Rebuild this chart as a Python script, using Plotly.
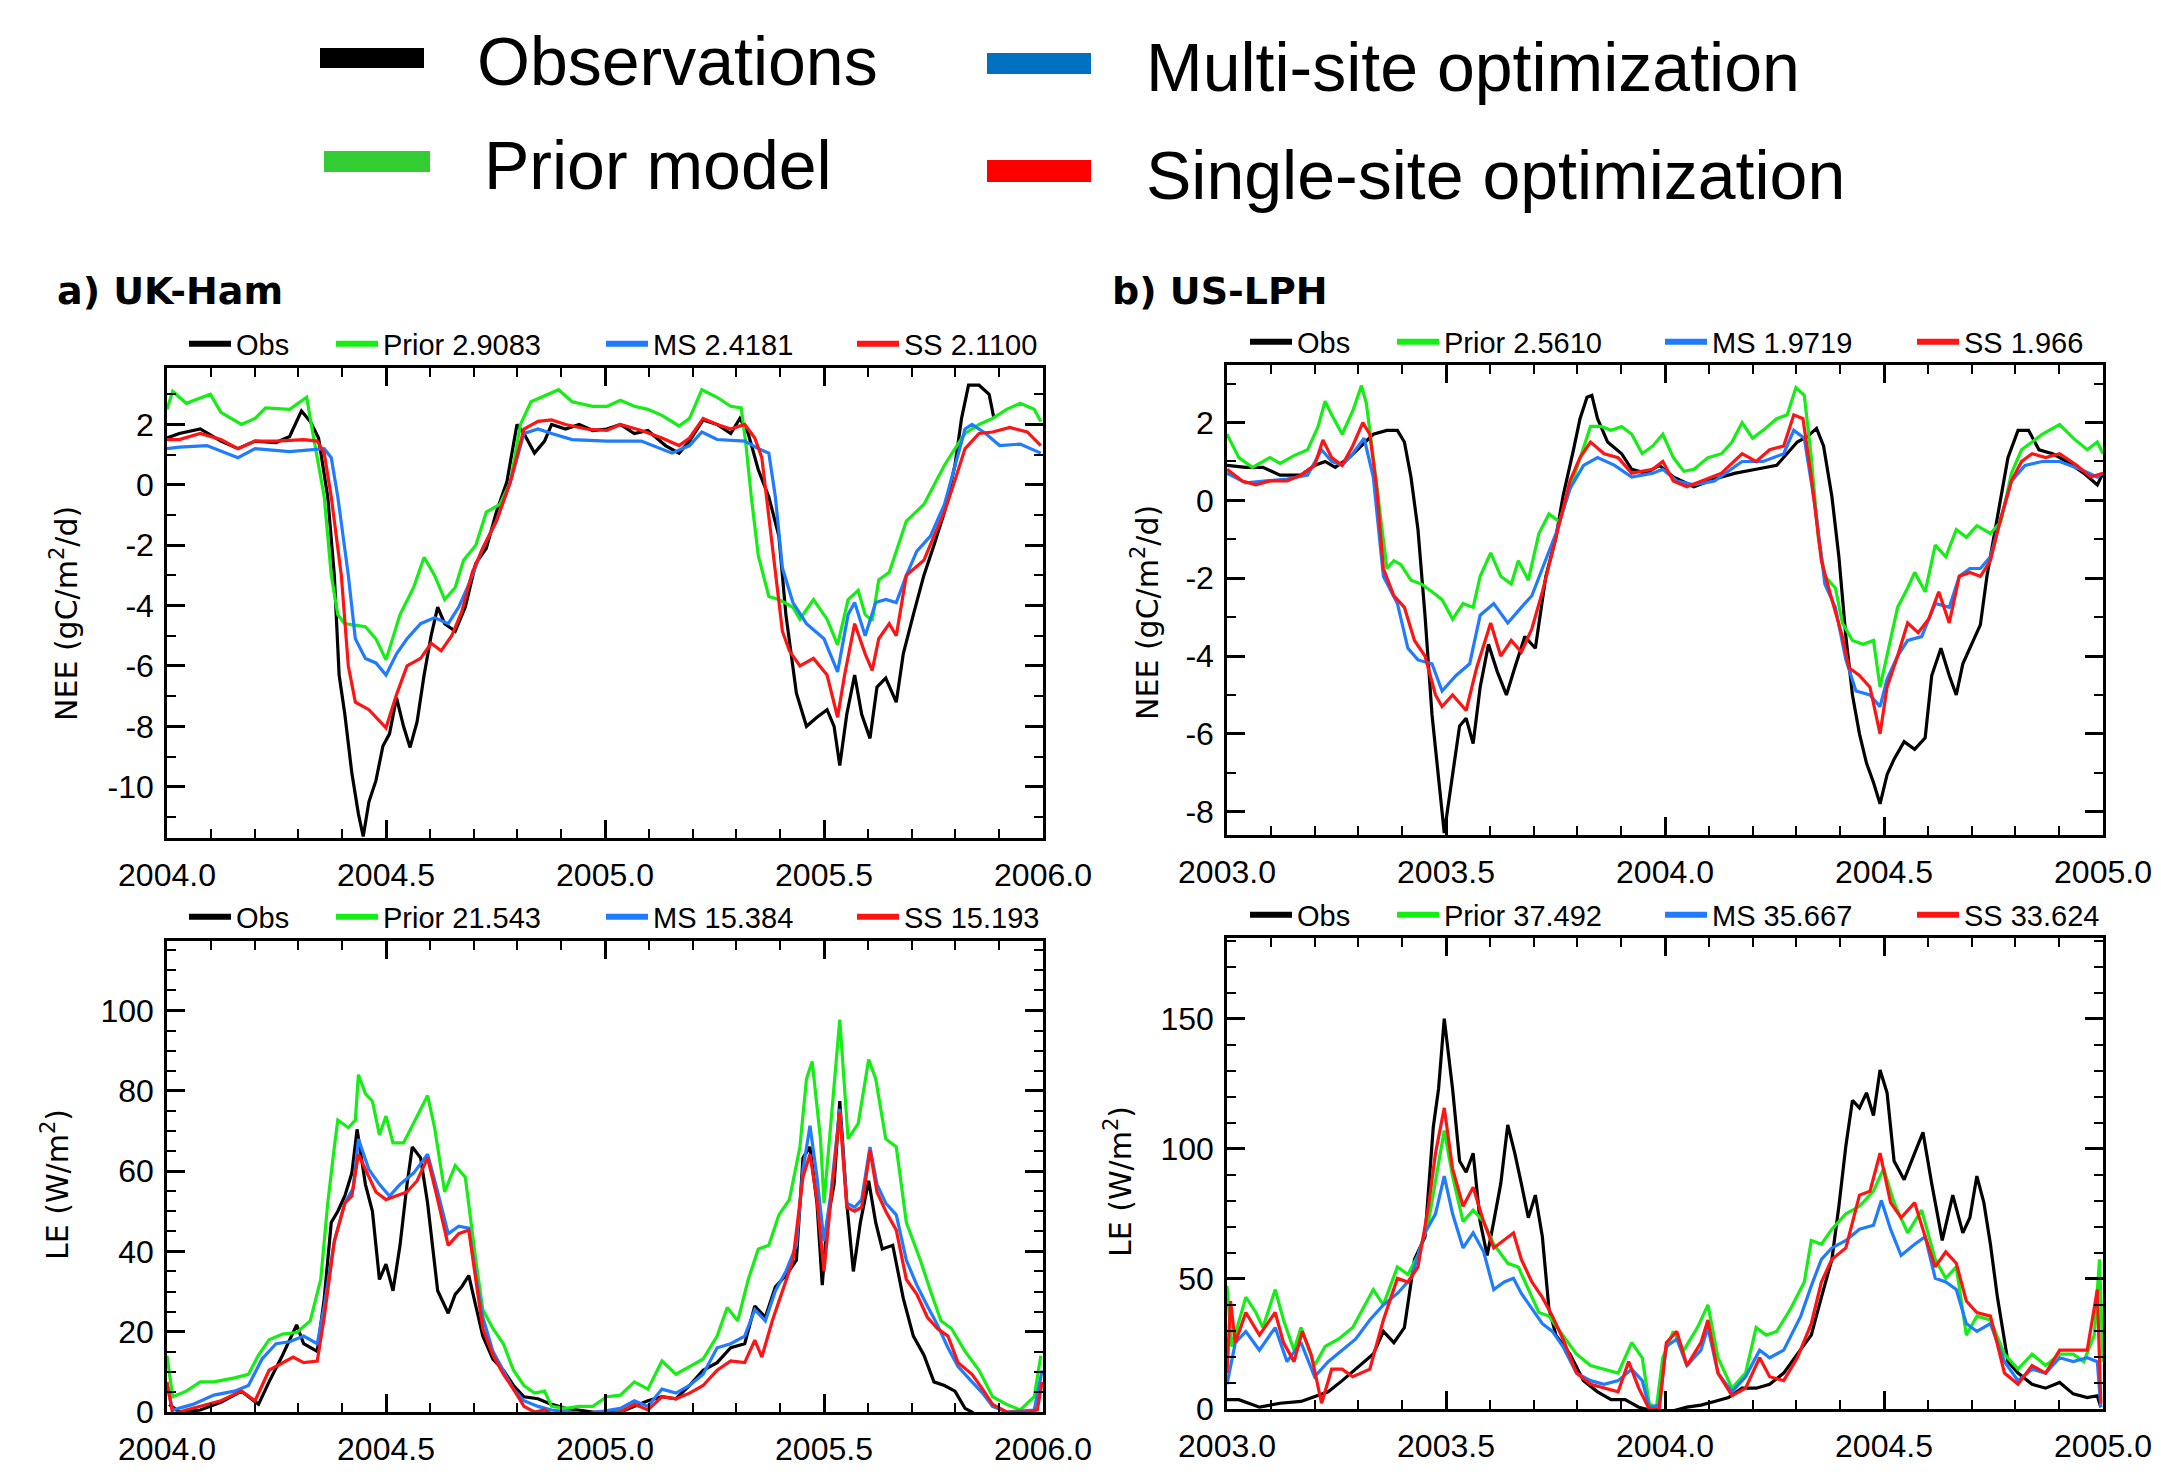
import plotly.graph_objects as go

W, H = 2161, 1476

# ---------------- data (year, value) ----------------
# a) UK-Ham  NEE (gC/m2/d)
A_NEE_OBS = [(2004.000,1.55),(2004.028,1.7),(2004.076,1.85),(2004.123,1.45),(2004.162,1.2),(2004.201,1.45),(2004.249,1.4),(2004.280,1.6),(2004.307,2.45),(2004.327,2.1),(2004.346,1.55),(2004.367,-0.4),(2004.382,-3.0),(2004.393,-6.3),(2004.406,-7.6),(2004.422,-9.55),(2004.437,-10.9),(2004.448,-11.65),(2004.461,-10.5),(2004.477,-9.8),(2004.493,-8.65),(2004.508,-8.25),(2004.524,-7.05),(2004.540,-8.0),(2004.555,-8.7),(2004.571,-7.85),(2004.587,-6.3),(2004.603,-5.0),(2004.618,-4.05),(2004.634,-4.6),(2004.658,-4.85),(2004.681,-4.05),(2004.705,-2.6),(2004.729,-2.1),(2004.752,-0.9),(2004.776,0.1),(2004.799,2.0),(2004.815,1.7),(2004.839,1.05),(2004.862,1.45),(2004.878,2.0),(2004.910,1.85),(2004.941,2.0),(2004.972,1.8),(2005.004,1.85),(2005.035,2.0),(2005.067,1.7),(2005.098,1.8),(2005.138,1.3),(2005.169,1.05),(2005.193,1.45),(2005.224,2.15),(2005.256,2.0),(2005.287,1.7),(2005.308,2.2),(2005.327,1.7),(2005.350,0.5),(2005.374,-0.4),(2005.397,-1.7),(2005.413,-4.3),(2005.437,-6.9),(2005.460,-8.0),(2005.484,-7.7),(2005.507,-7.45),(2005.523,-8.0),(2005.536,-9.3),(2005.552,-7.6),(2005.570,-6.3),(2005.586,-7.6),(2005.605,-8.4),(2005.621,-6.7),(2005.641,-6.4),(2005.665,-7.2),(2005.681,-5.6),(2005.704,-4.3),(2005.728,-3.0),(2005.751,-2.0),(2005.775,-0.9),(2005.799,0.65),(2005.814,2.2),(2005.830,3.3),(2005.854,3.3),(2005.877,3.0),(2005.888,2.2)]
A_NEE_PRIOR = [(2004.000,2.5),(2004.013,3.1),(2004.044,2.7),(2004.099,3.0),(2004.123,2.4),(2004.170,2.0),(2004.201,2.2),(2004.225,2.55),(2004.280,2.5),(2004.319,2.9),(2004.327,2.2),(2004.359,-0.4),(2004.375,-3.0),(2004.390,-4.3),(2004.406,-4.6),(2004.453,-4.7),(2004.477,-5.1),(2004.500,-5.8),(2004.532,-4.3),(2004.563,-3.4),(2004.587,-2.4),(2004.611,-3.0),(2004.634,-3.8),(2004.658,-3.4),(2004.677,-2.5),(2004.705,-2.0),(2004.729,-0.9),(2004.760,-0.65),(2004.784,0.1),(2004.807,2.0),(2004.831,2.75),(2004.862,2.95),(2004.894,3.15),(2004.925,2.75),(2004.972,2.6),(2005.004,2.6),(2005.035,2.8),(2005.067,2.6),(2005.098,2.5),(2005.130,2.3),(2005.169,1.95),(2005.193,2.2),(2005.221,3.15),(2005.256,2.9),(2005.287,2.6),(2005.311,2.55),(2005.322,1.3),(2005.334,-0.4),(2005.350,-2.35),(2005.374,-3.7),(2005.397,-3.8),(2005.429,-4.05),(2005.445,-4.45),(2005.476,-3.8),(2005.507,-4.45),(2005.531,-5.3),(2005.555,-3.8),(2005.578,-3.5),(2005.594,-4.3),(2005.610,-4.5),(2005.625,-3.15),(2005.649,-2.9),(2005.665,-2.2),(2005.688,-1.2),(2005.728,-0.65),(2005.751,0.0),(2005.775,0.65),(2005.799,1.2),(2005.822,1.7),(2005.854,2.0),(2005.885,2.2),(2005.917,2.5),(2005.948,2.7),(2005.980,2.5),(2005.995,2.1)]
A_NEE_MS = [(2004.000,1.2),(2004.028,1.25),(2004.091,1.3),(2004.162,0.9),(2004.201,1.2),(2004.280,1.1),(2004.359,1.2),(2004.375,0.9),(2004.390,-0.4),(2004.414,-3.0),(2004.430,-5.1),(2004.453,-5.75),(2004.477,-5.9),(2004.500,-6.3),(2004.524,-5.6),(2004.548,-5.1),(2004.579,-4.6),(2004.611,-4.4),(2004.642,-4.6),(2004.666,-4.05),(2004.689,-3.3),(2004.721,-2.1),(2004.752,-1.2),(2004.784,0.1),(2004.815,1.7),(2004.847,1.85),(2004.878,1.7),(2004.925,1.5),(2005.004,1.45),(2005.083,1.45),(2005.153,1.05),(2005.193,1.3),(2005.221,1.75),(2005.256,1.5),(2005.319,1.45),(2005.350,1.2),(2005.374,1.05),(2005.389,-0.4),(2005.405,-2.75),(2005.429,-3.9),(2005.460,-4.6),(2005.500,-5.1),(2005.531,-6.2),(2005.555,-4.3),(2005.570,-3.9),(2005.594,-5.0),(2005.618,-3.9),(2005.641,-3.8),(2005.665,-3.9),(2005.688,-3.0),(2005.712,-2.2),(2005.743,-1.7),(2005.775,-0.65),(2005.799,0.65),(2005.822,1.85),(2005.838,2.0),(2005.869,1.7),(2005.901,1.3),(2005.948,1.35),(2005.995,1.05)]
A_NEE_SS = [(2004.000,1.5),(2004.028,1.5),(2004.076,1.7),(2004.123,1.5),(2004.162,1.2),(2004.201,1.45),(2004.249,1.45),(2004.312,1.5),(2004.343,1.45),(2004.359,1.05),(2004.375,-0.4),(2004.398,-3.0),(2004.414,-6.0),(2004.430,-7.2),(2004.461,-7.45),(2004.500,-8.05),(2004.524,-6.95),(2004.548,-6.0),(2004.579,-5.75),(2004.603,-5.25),(2004.626,-5.5),(2004.650,-5.0),(2004.673,-4.2),(2004.697,-2.9),(2004.721,-2.1),(2004.752,-1.2),(2004.784,0.1),(2004.815,1.85),(2004.847,2.1),(2004.878,2.15),(2004.910,2.0),(2004.957,1.85),(2005.004,1.8),(2005.035,2.0),(2005.083,1.8),(2005.130,1.55),(2005.169,1.3),(2005.193,1.55),(2005.224,2.2),(2005.256,2.0),(2005.287,1.85),(2005.319,2.0),(2005.342,1.55),(2005.358,0.9),(2005.374,-1.05),(2005.389,-3.0),(2005.405,-4.85),(2005.421,-5.5),(2005.445,-6.0),(2005.476,-5.75),(2005.507,-6.3),(2005.531,-7.7),(2005.547,-6.3),(2005.570,-4.6),(2005.594,-5.6),(2005.610,-6.15),(2005.625,-5.1),(2005.649,-4.6),(2005.665,-5.0),(2005.688,-3.0),(2005.728,-2.5),(2005.751,-1.7),(2005.775,-0.9),(2005.799,0.15),(2005.822,1.2),(2005.854,1.7),(2005.885,1.75),(2005.924,1.9),(2005.964,1.75),(2005.995,1.3)]

# b) US-LPH  NEE
B_NEE_OBS = [(2003.000,0.9),(2003.043,0.85),(2003.082,0.85),(2003.121,0.65),(2003.169,0.65),(2003.200,0.9),(2003.224,1.0),(2003.247,0.85),(2003.279,1.1),(2003.310,1.45),(2003.334,1.7),(2003.365,1.8),(2003.389,1.8),(2003.405,1.5),(2003.420,0.6),(2003.436,-0.75),(2003.452,-2.95),(2003.468,-5.5),(2003.483,-7.05),(2003.496,-8.55),(2003.515,-7.05),(2003.531,-5.8),(2003.546,-5.6),(2003.562,-6.25),(2003.578,-4.8),(2003.597,-3.7),(2003.617,-4.4),(2003.638,-5.0),(2003.657,-4.3),(2003.680,-3.5),(2003.704,-3.8),(2003.728,-1.95),(2003.751,-0.95),(2003.767,0.1),(2003.791,1.3),(2003.806,2.1),(2003.822,2.65),(2003.833,2.7),(2003.846,2.1),(2003.869,1.5),(2003.901,1.2),(2003.924,0.8),(2003.956,0.7),(2003.987,0.9),(2004.019,0.6),(2004.066,0.35),(2004.113,0.55),(2004.161,0.7),(2004.208,0.8),(2004.255,0.9),(2004.302,1.5),(2004.326,1.65),(2004.346,1.85),(2004.362,1.4),(2004.381,0.1),(2004.397,-1.45),(2004.413,-3.5),(2004.428,-5.0),(2004.444,-6.0),(2004.460,-6.75),(2004.476,-7.25),(2004.491,-7.8),(2004.507,-7.05),(2004.523,-6.65),(2004.546,-6.2),(2004.570,-6.4),(2004.594,-6.1),(2004.609,-4.5),(2004.630,-3.8),(2004.649,-4.5),(2004.665,-5.0),(2004.680,-4.2),(2004.704,-3.6),(2004.720,-3.2),(2004.735,-1.95),(2004.759,-0.45),(2004.783,1.1),(2004.806,1.8),(2004.830,1.8),(2004.854,1.3),(2004.885,1.2),(2004.917,1.0),(2004.956,0.7),(2004.987,0.4),(2005.000,0.7)]
B_NEE_PRIOR = [(2003.000,1.7),(2003.027,1.1),(2003.058,0.85),(2003.098,1.1),(2003.121,0.95),(2003.153,1.15),(2003.184,1.3),(2003.208,1.9),(2003.224,2.55),(2003.239,2.2),(2003.263,1.7),(2003.287,2.3),(2003.307,2.95),(2003.318,2.5),(2003.334,1.1),(2003.350,-0.45),(2003.365,-1.75),(2003.381,-1.55),(2003.397,-1.65),(2003.420,-2.05),(2003.444,-2.15),(2003.468,-2.35),(2003.491,-2.55),(2003.515,-3.05),(2003.539,-2.65),(2003.562,-2.75),(2003.578,-1.95),(2003.602,-1.35),(2003.625,-1.95),(2003.649,-2.15),(2003.665,-1.55),(2003.688,-2.05),(2003.712,-0.85),(2003.735,-0.35),(2003.759,-0.55),(2003.783,0.3),(2003.806,1.1),(2003.830,1.9),(2003.854,1.9),(2003.877,1.8),(2003.901,1.9),(2003.924,1.7),(2003.948,1.2),(2003.972,1.4),(2003.995,1.7),(2004.019,1.1),(2004.043,0.75),(2004.066,0.8),(2004.098,1.1),(2004.129,1.2),(2004.153,1.5),(2004.176,2.0),(2004.200,1.6),(2004.224,1.8),(2004.255,2.1),(2004.279,2.2),(2004.299,2.9),(2004.318,2.7),(2004.334,1.1),(2004.350,-0.95),(2004.365,-1.95),(2004.389,-2.25),(2004.405,-3.15),(2004.428,-3.6),(2004.452,-3.7),(2004.476,-3.6),(2004.491,-4.8),(2004.507,-4.0),(2004.531,-2.75),(2004.554,-2.25),(2004.570,-1.85),(2004.594,-2.35),(2004.617,-1.15),(2004.641,-1.45),(2004.665,-0.75),(2004.688,-0.95),(2004.712,-0.65),(2004.743,-0.85),(2004.767,-0.55),(2004.791,0.7),(2004.814,1.3),(2004.838,1.5),(2004.861,1.7),(2004.901,1.95),(2004.932,1.6),(2004.964,1.3),(2004.987,1.5),(2005.000,1.2)]
B_NEE_MS = [(2003.000,0.7),(2003.043,0.45),(2003.090,0.5),(2003.137,0.55),(2003.184,0.65),(2003.216,1.3),(2003.239,1.0),(2003.263,0.9),(2003.287,1.2),(2003.313,1.6),(2003.334,0.6),(2003.357,-1.95),(2003.389,-2.65),(2003.413,-3.8),(2003.436,-4.1),(2003.468,-4.2),(2003.491,-4.9),(2003.523,-4.5),(2003.554,-4.2),(2003.578,-2.95),(2003.609,-2.65),(2003.641,-3.15),(2003.672,-2.75),(2003.696,-2.45),(2003.720,-1.75),(2003.751,-0.85),(2003.783,0.3),(2003.814,0.9),(2003.846,1.1),(2003.885,0.9),(2003.924,0.6),(2003.972,0.7),(2003.995,0.8),(2004.027,0.5),(2004.066,0.4),(2004.113,0.5),(2004.176,1.0),(2004.224,1.0),(2004.271,1.2),(2004.294,1.8),(2004.318,1.6),(2004.342,-0.1),(2004.365,-2.15),(2004.389,-2.75),(2004.413,-4.1),(2004.436,-4.9),(2004.468,-5.0),(2004.491,-5.3),(2004.507,-4.6),(2004.531,-4.0),(2004.554,-3.6),(2004.586,-3.5),(2004.617,-2.65),(2004.649,-2.75),(2004.672,-1.95),(2004.696,-1.75),(2004.720,-1.75),(2004.743,-1.45),(2004.767,-0.45),(2004.791,0.5),(2004.822,0.9),(2004.861,1.0),(2004.901,1.0),(2004.948,0.8),(2004.987,0.6),(2005.000,0.7)]
B_NEE_SS = [(2003.000,0.8),(2003.035,0.5),(2003.066,0.4),(2003.098,0.5),(2003.137,0.5),(2003.169,0.65),(2003.200,0.9),(2003.219,1.55),(2003.239,1.1),(2003.263,0.9),(2003.287,1.4),(2003.310,2.0),(2003.326,1.7),(2003.342,0.3),(2003.357,-1.75),(2003.381,-2.45),(2003.405,-2.75),(2003.428,-3.6),(2003.452,-4.0),(2003.476,-5.0),(2003.491,-5.3),(2003.515,-5.0),(2003.546,-5.4),(2003.570,-4.3),(2003.602,-3.15),(2003.625,-4.0),(2003.649,-3.6),(2003.672,-3.9),(2003.696,-3.3),(2003.720,-2.35),(2003.751,-0.95),(2003.783,0.5),(2003.806,1.1),(2003.830,1.5),(2003.861,1.2),(2003.893,1.1),(2003.924,0.7),(2003.972,0.8),(2003.995,1.0),(2004.019,0.5),(2004.050,0.35),(2004.082,0.5),(2004.129,0.7),(2004.176,1.2),(2004.208,1.0),(2004.239,1.3),(2004.271,1.4),(2004.294,2.2),(2004.315,2.1),(2004.334,0.6),(2004.357,-1.55),(2004.381,-2.55),(2004.405,-3.5),(2004.420,-4.3),(2004.444,-4.5),(2004.468,-4.8),(2004.491,-6.0),(2004.507,-4.8),(2004.531,-4.0),(2004.554,-3.15),(2004.578,-3.4),(2004.602,-3.05),(2004.625,-2.35),(2004.649,-3.15),(2004.672,-1.95),(2004.696,-1.85),(2004.720,-1.95),(2004.743,-1.55),(2004.767,-0.45),(2004.791,0.5),(2004.814,1.0),(2004.838,1.2),(2004.869,1.1),(2004.901,1.2),(2004.940,0.9),(2004.972,0.6),(2005.000,0.7)]

# a) UK-Ham  LE (W/m2)
A_LE_OBS = [(2004.005,1.9),(2004.028,0.0),(2004.076,0.5),(2004.123,2.4),(2004.170,5.2),(2004.209,1.9),(2004.233,7.5),(2004.264,14.2),(2004.296,21.7),(2004.312,17.0),(2004.343,15.1),(2004.359,28.3),(2004.375,47.2),(2004.390,50.0),(2004.406,53.8),(2004.422,59.5),(2004.434,70.4),(2004.453,56.7),(2004.469,50.0),(2004.485,33.0),(2004.500,36.8),(2004.516,30.2),(2004.532,41.5),(2004.548,56.7),(2004.560,66.0),(2004.579,63.3),(2004.595,52.0),(2004.618,30.2),(2004.642,24.6),(2004.658,29.3),(2004.673,31.2),(2004.689,34.0),(2004.705,26.4),(2004.721,18.9),(2004.744,13.2),(2004.768,10.4),(2004.791,6.6),(2004.815,3.8),(2004.847,3.3),(2004.878,1.9),(2004.910,0.9),(2004.941,0.5),(2004.972,0.0),(2005.035,0.0),(2005.067,1.4),(2005.098,2.8),(2005.130,3.8),(2005.162,3.3),(2005.193,6.6),(2005.224,10.4),(2005.256,12.3),(2005.287,16.0),(2005.319,17.0),(2005.342,26.4),(2005.366,23.6),(2005.389,31.2),(2005.413,34.0),(2005.437,37.8),(2005.452,63.3),(2005.468,66.0),(2005.484,52.0),(2005.496,31.6),(2005.507,47.2),(2005.523,56.7),(2005.536,77.4),(2005.552,52.0),(2005.567,35.0),(2005.583,47.2),(2005.602,57.6),(2005.618,47.2),(2005.633,40.6),(2005.657,41.5),(2005.681,28.3),(2005.704,18.9),(2005.728,14.2),(2005.751,7.5),(2005.775,6.6),(2005.799,5.2),(2005.822,0.9),(2005.838,0.0),(2005.860,-2.0)]
A_LE_PRIOR = [(2004.000,14.0),(2004.013,3.8),(2004.044,5.2),(2004.076,7.5),(2004.107,7.5),(2004.154,8.5),(2004.186,9.4),(2004.209,14.2),(2004.233,18.0),(2004.264,19.4),(2004.296,19.8),(2004.327,22.7),(2004.351,33.0),(2004.367,52.0),(2004.382,66.0),(2004.390,72.7),(2004.414,70.8),(2004.430,72.7),(2004.437,84.0),(2004.453,79.3),(2004.469,77.4),(2004.485,69.0),(2004.500,73.7),(2004.516,67.0),(2004.540,67.0),(2004.563,71.8),(2004.579,75.5),(2004.595,78.8),(2004.611,70.8),(2004.634,54.8),(2004.658,61.4),(2004.681,58.5),(2004.705,37.8),(2004.721,25.5),(2004.744,20.8),(2004.768,17.0),(2004.791,10.4),(2004.815,6.6),(2004.839,4.7),(2004.862,5.2),(2004.878,1.4),(2004.910,0.9),(2004.941,1.4),(2004.972,1.4),(2005.004,3.8),(2005.035,4.2),(2005.067,7.5),(2005.098,5.7),(2005.130,12.7),(2005.162,9.4),(2005.193,11.3),(2005.224,13.2),(2005.256,18.9),(2005.279,26.0),(2005.303,22.7),(2005.327,33.0),(2005.350,40.6),(2005.374,41.5),(2005.397,49.1),(2005.421,52.9),(2005.445,66.0),(2005.460,83.0),(2005.473,87.3),(2005.492,68.0),(2005.500,52.0),(2005.515,70.8),(2005.536,97.7),(2005.555,68.0),(2005.578,71.8),(2005.602,87.8),(2005.618,83.0),(2005.641,68.0),(2005.665,66.0),(2005.688,47.2),(2005.720,37.8),(2005.743,30.2),(2005.767,22.7),(2005.791,20.8),(2005.822,15.1),(2005.854,10.4),(2005.885,3.8),(2005.917,1.9),(2005.948,0.5),(2005.980,3.8),(2005.995,14.0)]
A_LE_MS = [(2004.000,6.6),(2004.013,0.5),(2004.059,1.9),(2004.107,4.2),(2004.154,5.2),(2004.186,6.6),(2004.217,13.2),(2004.249,17.0),(2004.280,17.5),(2004.312,18.9),(2004.343,17.0),(2004.359,26.4),(2004.382,42.5),(2004.406,52.0),(2004.425,55.7),(2004.437,68.0),(2004.461,60.4),(2004.485,56.7),(2004.508,53.8),(2004.532,56.7),(2004.563,59.5),(2004.595,64.2),(2004.618,54.8),(2004.642,44.4),(2004.666,46.3),(2004.689,45.8),(2004.705,34.0),(2004.721,23.6),(2004.744,15.1),(2004.768,10.4),(2004.791,5.7),(2004.815,2.8),(2004.847,1.4),(2004.878,0.5),(2004.957,-0.5),(2005.035,0.9),(2005.067,2.8),(2005.098,1.4),(2005.130,5.7),(2005.162,4.7),(2005.193,6.6),(2005.224,9.4),(2005.256,16.0),(2005.287,17.0),(2005.319,18.9),(2005.342,25.5),(2005.366,22.7),(2005.389,30.2),(2005.413,35.0),(2005.437,41.5),(2005.452,60.4),(2005.468,71.3),(2005.484,58.5),(2005.500,42.5),(2005.515,53.8),(2005.536,75.5),(2005.552,52.0),(2005.570,51.0),(2005.586,52.9),(2005.605,66.0),(2005.621,56.7),(2005.641,52.0),(2005.665,49.1),(2005.688,37.8),(2005.712,31.6),(2005.736,26.4),(2005.759,21.7),(2005.783,16.0),(2005.806,11.3),(2005.838,7.5),(2005.862,4.7),(2005.885,1.4),(2005.917,0.0),(2005.980,0.5),(2005.998,10.4)]
A_LE_SS = [(2004.000,7.5),(2004.013,-0.5),(2004.044,0.5),(2004.076,1.4),(2004.123,2.8),(2004.170,5.2),(2004.201,2.8),(2004.233,10.4),(2004.264,12.3),(2004.288,13.7),(2004.312,12.3),(2004.343,12.7),(2004.359,23.6),(2004.382,42.5),(2004.406,52.0),(2004.422,53.8),(2004.437,64.2),(2004.453,60.4),(2004.477,54.8),(2004.500,52.9),(2004.524,53.8),(2004.548,54.8),(2004.571,57.6),(2004.595,63.3),(2004.618,52.9),(2004.642,41.5),(2004.666,44.4),(2004.689,45.3),(2004.705,33.0),(2004.721,20.8),(2004.744,14.2),(2004.768,9.4),(2004.791,5.7),(2004.815,1.4),(2004.839,0.0),(2004.862,0.5),(2004.878,-0.5),(2004.957,-1.0),(2005.035,0.0),(2005.067,1.9),(2005.098,0.5),(2005.130,3.8),(2005.162,3.3),(2005.193,4.7),(2005.224,6.6),(2005.256,10.4),(2005.287,12.7),(2005.319,12.3),(2005.342,17.9),(2005.358,13.7),(2005.382,22.7),(2005.405,30.2),(2005.429,37.8),(2005.452,58.5),(2005.468,64.2),(2005.484,52.9),(2005.500,35.0),(2005.515,52.0),(2005.536,74.6),(2005.552,51.0),(2005.570,50.0),(2005.586,51.0),(2005.605,65.2),(2005.621,54.8),(2005.641,50.0),(2005.665,45.3),(2005.688,33.0),(2005.712,29.3),(2005.736,23.6),(2005.759,20.8),(2005.783,18.9),(2005.806,12.3),(2005.838,9.4),(2005.862,5.7),(2005.885,1.9),(2005.917,0.0),(2005.964,0.0),(2005.987,0.5),(2005.998,7.5)]

# b) US-LPH  LE
B_LE_OBS = [(2003.000,3.6),(2003.027,3.6),(2003.074,0.7),(2003.121,2.2),(2003.169,2.9),(2003.208,5.1),(2003.231,6.6),(2003.263,10.9),(2003.294,15.3),(2003.334,21.1),(2003.357,29.8),(2003.381,25.5),(2003.405,31.3),(2003.428,57.5),(2003.452,66.2),(2003.471,108.4),(2003.483,123.0),(2003.496,150.0),(2003.515,123.0),(2003.531,95.3),(2003.546,91.0),(2003.562,98.3),(2003.578,72.0),(2003.594,59.0),(2003.609,72.0),(2003.625,86.6),(2003.641,109.2),(2003.657,98.3),(2003.672,86.6),(2003.688,73.5),(2003.704,82.2),(2003.720,66.2),(2003.735,38.6),(2003.751,28.4),(2003.783,21.1),(2003.814,10.9),(2003.846,6.6),(2003.877,3.6),(2003.909,3.6),(2003.940,0.7),(2003.972,-0.7),(2004.019,-0.7),(2004.050,0.7),(2004.082,1.5),(2004.113,2.9),(2004.145,4.4),(2004.176,8.0),(2004.208,8.0),(2004.239,9.5),(2004.271,13.8),(2004.302,21.1),(2004.334,28.4),(2004.357,42.9),(2004.381,57.5),(2004.397,77.9),(2004.413,101.2),(2004.428,118.6),(2004.444,115.7),(2004.460,121.5),(2004.476,112.8),(2004.491,130.3),(2004.507,121.5),(2004.523,95.3),(2004.546,88.1),(2004.570,98.3),(2004.589,106.3),(2004.609,86.6),(2004.633,64.8),(2004.657,82.2),(2004.680,67.7),(2004.696,73.5),(2004.712,89.5),(2004.728,79.3),(2004.743,63.3),(2004.759,42.9),(2004.783,18.2),(2004.806,13.8),(2004.838,9.5),(2004.869,8.0),(2004.901,10.2),(2004.932,5.8),(2004.964,4.4),(2004.987,5.1),(2004.995,0.7)]
B_LE_PRIOR = [(2003.000,47.3),(2003.011,24.0),(2003.043,43.0),(2003.066,37.1),(2003.082,31.3),(2003.110,45.9),(2003.129,34.2),(2003.153,22.6),(2003.169,31.3),(2003.200,16.7),(2003.224,24.0),(2003.255,26.9),(2003.287,31.3),(2003.310,38.6),(2003.334,45.9),(2003.357,40.0),(2003.389,54.6),(2003.413,51.7),(2003.436,59.0),(2003.460,72.0),(2003.476,88.1),(2003.496,107.0),(2003.515,89.5),(2003.539,72.0),(2003.562,76.4),(2003.586,72.0),(2003.609,63.3),(2003.641,56.0),(2003.665,54.6),(2003.688,45.9),(2003.712,37.1),(2003.735,35.7),(2003.767,28.4),(2003.798,21.1),(2003.830,16.7),(2003.861,15.3),(2003.893,13.8),(2003.924,25.5),(2003.948,19.7),(2003.964,2.2),(2003.980,0.0),(2003.995,19.7),(2004.019,29.8),(2004.043,22.6),(2004.074,31.3),(2004.098,40.0),(2004.121,19.7),(2004.153,8.0),(2004.184,13.8),(2004.208,31.3),(2004.231,28.4),(2004.255,29.8),(2004.287,38.6),(2004.318,48.8),(2004.334,64.8),(2004.357,63.3),(2004.381,69.1),(2004.413,75.0),(2004.444,77.9),(2004.476,83.7),(2004.499,92.4),(2004.523,79.3),(2004.554,67.7),(2004.586,76.4),(2004.617,57.5),(2004.641,50.2),(2004.665,54.6),(2004.688,28.4),(2004.712,35.7),(2004.743,34.2),(2004.775,21.1),(2004.806,15.3),(2004.838,21.1),(2004.869,16.7),(2004.901,21.1),(2004.932,21.1),(2004.956,18.2),(2004.980,28.4),(2004.992,57.5),(2005.000,18.0)]
B_LE_MS = [(2003.000,9.5),(2003.019,25.5),(2003.043,29.8),(2003.074,22.6),(2003.110,31.3),(2003.137,18.2),(2003.169,25.5),(2003.200,12.4),(2003.231,18.2),(2003.263,22.6),(2003.294,26.9),(2003.326,34.2),(2003.357,40.0),(2003.389,44.4),(2003.420,50.2),(2003.452,67.7),(2003.476,75.0),(2003.496,89.5),(2003.515,75.0),(2003.539,61.9),(2003.562,67.7),(2003.586,60.4),(2003.609,45.9),(2003.633,48.8),(2003.654,50.2),(2003.672,44.4),(2003.696,38.6),(2003.720,32.8),(2003.743,29.8),(2003.767,24.0),(2003.798,13.8),(2003.830,10.9),(2003.861,9.5),(2003.893,10.9),(2003.924,15.3),(2003.948,10.9),(2003.964,0.7),(2003.987,1.5),(2004.003,24.0),(2004.027,26.9),(2004.050,16.7),(2004.082,22.6),(2004.098,31.3),(2004.121,13.8),(2004.153,6.6),(2004.184,12.4),(2004.216,22.6),(2004.239,19.7),(2004.271,22.6),(2004.310,35.7),(2004.334,47.3),(2004.357,57.5),(2004.381,61.9),(2004.413,64.8),(2004.444,69.1),(2004.476,70.6),(2004.494,80.1),(2004.515,69.1),(2004.539,59.0),(2004.570,63.3),(2004.594,66.2),(2004.617,50.2),(2004.641,48.8),(2004.665,45.9),(2004.688,32.8),(2004.712,29.8),(2004.743,32.8),(2004.775,18.2),(2004.806,10.9),(2004.838,15.3),(2004.869,13.8),(2004.901,19.7),(2004.932,18.2),(2004.964,19.7),(2004.987,18.2),(2004.995,0.7)]
B_LE_SS = [(2003.000,13.8),(2003.008,41.5),(2003.019,25.5),(2003.043,37.1),(2003.074,28.4),(2003.110,37.1),(2003.129,25.5),(2003.153,18.2),(2003.172,29.8),(2003.192,21.1),(2003.216,2.2),(2003.239,15.3),(2003.263,15.3),(2003.287,12.4),(2003.326,15.3),(2003.357,34.2),(2003.389,50.2),(2003.413,48.8),(2003.436,54.6),(2003.460,77.9),(2003.476,98.3),(2003.496,115.7),(2003.515,92.4),(2003.539,77.9),(2003.562,85.2),(2003.586,72.0),(2003.609,61.9),(2003.633,64.8),(2003.654,67.7),(2003.672,57.5),(2003.696,48.8),(2003.720,42.9),(2003.743,35.7),(2003.767,26.9),(2003.798,13.8),(2003.830,9.5),(2003.861,8.0),(2003.893,6.6),(2003.917,18.2),(2003.940,8.0),(2003.964,0.0),(2003.987,0.0),(2004.003,25.5),(2004.027,29.8),(2004.050,16.7),(2004.082,25.5),(2004.098,34.2),(2004.121,13.8),(2004.153,5.1),(2004.184,8.0),(2004.216,19.7),(2004.239,12.4),(2004.271,10.9),(2004.302,19.7),(2004.334,32.8),(2004.357,48.8),(2004.381,57.5),(2004.413,61.9),(2004.444,82.2),(2004.468,83.7),(2004.491,98.3),(2004.515,79.3),(2004.539,73.5),(2004.570,79.3),(2004.594,66.2),(2004.617,54.6),(2004.641,60.4),(2004.665,56.0),(2004.688,41.5),(2004.712,37.1),(2004.743,35.7),(2004.775,13.8),(2004.806,9.5),(2004.838,16.7),(2004.869,13.8),(2004.901,22.6),(2004.932,22.6),(2004.964,22.6),(2004.987,45.9),(2004.995,2.2)]

# legend labels (RMSE scores)
A_NEE_LABELS = ["Obs", "Prior 2.9083", "MS 2.4181", "SS 2.1100"]
B_NEE_LABELS = ["Obs", "Prior 2.5610", "MS 1.9719", "SS 1.966"]
A_LE_LABELS = ["Obs", "Prior 21.543", "MS 15.384", "SS 15.193"]
B_LE_LABELS = ["Obs", "Prior 37.492", "MS 35.667", "SS 33.624"]

# ticks
A_XTICKS = [2004.0, 2004.5, 2005.0, 2005.5, 2006.0]
B_XTICKS = [2003.0, 2003.5, 2004.0, 2004.5, 2005.0]
A_NEE_YTICKS = [2, 0, -2, -4, -6, -8, -10]
B_NEE_YTICKS = [2, 0, -2, -4, -6, -8]
A_LE_YTICKS = [0, 20, 40, 60, 80, 100]
B_LE_YTICKS = [0, 50, 100, 150]

TOP_LEGEND = ["Observations", "Multi-site optimization", "Prior model", "Single-site optimization"]
TOP_COLORS = ["#000000", "#0070C0", "#33CC33", "#FF0000"]
SERIES_COLORS = ["#000000", "#14EE14", "#1F7BFF", "#FF1414"]

# ---------------- layout helpers ----------------
FONT = "Liberation Sans"
PANELS = [
    dict(series=[A_NEE_OBS, A_NEE_PRIOR, A_NEE_MS, A_NEE_SS], labels=A_NEE_LABELS,
         xticks=A_XTICKS, yticks=A_NEE_YTICKS, xr=[2004, 2006], yr=[-11.7, 3.87],
         ydminor=1, px=(167, 1043), py=(368, 838), leg_x=[236, 383, 653, 904], leg_y=344,
         title="NEE (gC/m<sup>2</sup>/d)", title_xy=(64, 614)),
    dict(series=[B_NEE_OBS, B_NEE_PRIOR, B_NEE_MS, B_NEE_SS], labels=B_NEE_LABELS,
         xticks=B_XTICKS, yticks=B_NEE_YTICKS, xr=[2003, 2005], yr=[-8.6, 3.48],
         ydminor=1, px=(1227, 2103), py=(365, 835), leg_x=[1297, 1444, 1712, 1964], leg_y=342,
         title="NEE (gC/m<sup>2</sup>/d)", title_xy=(1145, 613)),
    dict(series=[A_LE_OBS, A_LE_PRIOR, A_LE_MS, A_LE_SS], labels=A_LE_LABELS,
         xticks=A_XTICKS, yticks=A_LE_YTICKS, xr=[2004, 2006], yr=[0, 117.3],
         ydminor=5, px=(167, 1043), py=(941, 1412), leg_x=[236, 383, 653, 904], leg_y=917,
         title="LE (W/m<sup>2</sup>)", title_xy=(55, 1185)),
    dict(series=[B_LE_OBS, B_LE_PRIOR, B_LE_MS, B_LE_SS], labels=B_LE_LABELS,
         xticks=B_XTICKS, yticks=B_LE_YTICKS, xr=[2003, 2005], yr=[0, 181],
         ydminor=10, px=(1227, 2103), py=(938, 1409), leg_x=[1297, 1444, 1712, 1964], leg_y=915,
         title="LE (W/m<sup>2</sup>)", title_xy=(1118, 1182)),
]


def fmt_tick(v):
    return str(v).replace("\u2212", "-")


fig = go.Figure()
layout = dict(width=W, height=H, margin=dict(l=0, r=0, t=0, b=0, autoexpand=False),
              paper_bgcolor="white", plot_bgcolor="white", showlegend=True)
annotations = []
shapes = []
leg_idx = 0
ITEMW = 42

for i, p in enumerate(PANELS):
    n = i + 1
    xname = "x" if n == 1 else f"x{n}"
    yname = "y" if n == 1 else f"y{n}"
    xkey = "xaxis" if n == 1 else f"xaxis{n}"
    ykey = "yaxis" if n == 1 else f"yaxis{n}"
    common = dict(showline=True, linecolor="black", linewidth=2.5, mirror="ticks",
                  ticks="inside", ticklen=18, tickwidth=2.5, tickcolor="black",
                  showgrid=False, zeroline=False, fixedrange=True, automargin=False,
                  tickfont=dict(family=FONT, size=32, color="black"))
    layout[xkey] = dict(common, domain=[p["px"][0] / W, p["px"][1] / W], anchor=yname,
                        range=p["xr"], tickmode="array", tickvals=p["xticks"],
                        ticktext=[f"{v:.1f}" for v in p["xticks"]], ticklabelstandoff=7,
                        minor=dict(ticks="inside", ticklen=9, tickwidth=2, tickcolor="black",
                                   dtick=0.1, tick0=p["xr"][0], showgrid=False))
    layout[ykey] = dict(common, domain=[1 - p["py"][1] / H, 1 - p["py"][0] / H], anchor=xname,
                        range=p["yr"], tickmode="array", tickvals=p["yticks"],
                        ticktext=[fmt_tick(v) for v in p["yticks"]], ticklabelstandoff=4,
                        minor=dict(ticks="inside", ticklen=9, tickwidth=2, tickcolor="black",
                                   dtick=p["ydminor"], tick0=0, showgrid=False))
    # data lines
    for s, col in zip(p["series"], SERIES_COLORS):
        xs = [t for t, _ in s]
        ys = [v for _, v in s]
        fig.add_trace(go.Scatter(x=xs, y=ys, mode="lines", line=dict(color=col, width=3.2),
                                 xaxis=xname, yaxis=yname, showlegend=False, hoverinfo="skip"))
    # legend entries (one legend per entry for exact placement)
    for lab, col, tx in zip(p["labels"], SERIES_COLORS, p["leg_x"]):
        leg_idx += 1
        lname = "legend" if leg_idx == 1 else f"legend{leg_idx}"
        fig.add_trace(go.Scatter(x=[None], y=[None], mode="lines", name=lab,
                                 line=dict(color=col, width=6), xaxis=xname, yaxis=yname,
                                 legend=lname, showlegend=True))
        layout[lname] = dict(x=(tx - ITEMW - 10) / W, xanchor="left", y=1 - p["leg_y"] / H,
                             yanchor="middle", orientation="h", bgcolor="rgba(0,0,0,0)",
                             borderwidth=0, itemwidth=ITEMW,
                             font=dict(family=FONT, size=29, color="black"),
                             itemclick=False, itemdoubleclick=False)
    # y-axis title
    annotations.append(dict(text=p["title"], x=p["title_xy"][0] / W, y=1 - p["title_xy"][1] / H,
                            xref="paper", yref="paper", showarrow=False, textangle=-90,
                            xanchor="center", yanchor="middle",
                            font=dict(family="DejaVu Sans", size=30, color="black")))

# panel titles
for txt, x in [("a) UK-Ham", 55), ("b) US-LPH", 1110)]:
    annotations.append(dict(text=f"<b>{txt}</b>", x=x / W, y=1 - 291 / H, xref="paper", yref="paper",
                            showarrow=False, xanchor="left", yanchor="middle",
                            font=dict(family="DejaVu Sans", size=38, color="black")))

# top legend (swatches + labels)
TOP_POS = [((320, 48, 424, 68), (475, 61)), ((987, 53, 1091, 74), (1144, 67)),
           ((324, 151, 430, 172), (482, 165)), ((987, 160, 1091, 182), (1144, 175))]
for lab, col, (rect, tpos) in zip(TOP_LEGEND, TOP_COLORS, TOP_POS):
    x0, y0, x1, y1 = rect
    shapes.append(dict(type="rect", xref="paper", yref="paper", x0=x0 / W, x1=x1 / W,
                       y0=1 - y1 / H, y1=1 - y0 / H, fillcolor=col, line=dict(width=0)))
    annotations.append(dict(text=lab, x=tpos[0] / W, y=1 - tpos[1] / H, xref="paper", yref="paper",
                            showarrow=False, xanchor="left", yanchor="middle",
                            font=dict(family=FONT, size=68, color="black")))

layout["annotations"] = annotations
layout["shapes"] = shapes
fig.update_layout(**layout)
fig.write_html("out.html")
